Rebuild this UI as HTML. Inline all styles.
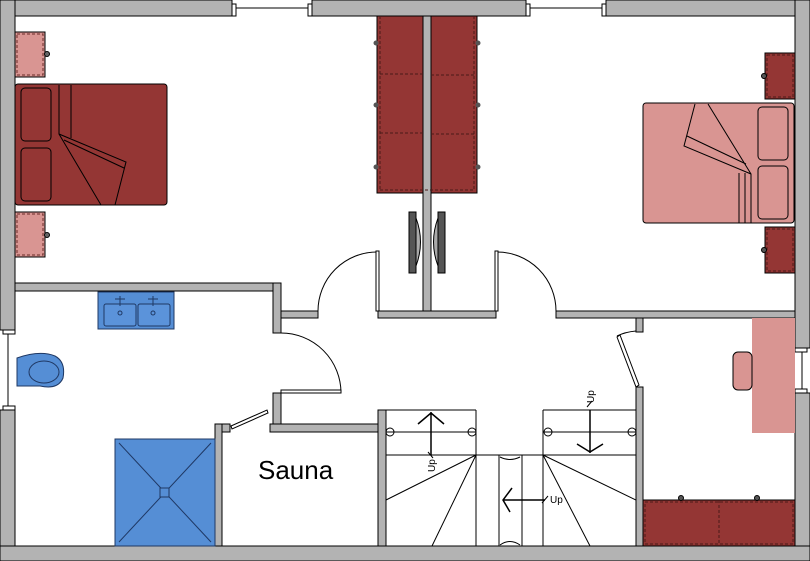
<!DOCTYPE html>
<html><head><meta charset="utf-8"><style>html,body{margin:0;padding:0;background:#fff}svg{display:block}</style></head>
<body>
<svg width="810" height="561" viewBox="0 0 810 561" xmlns="http://www.w3.org/2000/svg" font-family="Liberation Sans, sans-serif">
<rect width="810" height="561" fill="#fff"/>
<g fill="#b3b3b3" stroke="#000" stroke-width="1">
<rect x="0" y="0" width="232" height="16"/>
<rect x="312" y="0" width="214" height="16"/>
<rect x="606" y="0" width="204" height="16"/>
<rect x="0" y="0" width="15" height="330"/>
<rect x="0" y="410" width="15" height="151"/>
<rect x="795" y="0" width="15" height="348"/>
<rect x="795" y="393" width="15" height="168"/>
<rect x="0" y="546" width="810" height="15"/>
<rect x="15" y="283" width="266" height="8"/>
<rect x="273" y="283" width="8" height="50"/>
<rect x="281" y="311" width="37" height="7"/>
<rect x="378" y="311" width="118" height="7"/>
<rect x="423" y="16" width="8" height="295"/>
<rect x="556" y="311" width="239" height="7"/>
<rect x="273" y="393" width="8" height="32"/>
<rect x="270" y="424" width="116" height="8"/>
<rect x="215" y="424" width="15" height="8"/>
<rect x="215" y="424" width="7" height="122"/>
<rect x="378" y="410" width="8" height="136"/>
<rect x="636" y="318" width="7" height="14"/>
<rect x="636" y="387" width="7" height="159"/>
</g>
<g stroke="#000" fill="#fff" stroke-width="1">
<line x1="232" y1="8" x2="312" y2="8"/><rect x="232" y="4" width="4" height="12"/><rect x="308" y="4" width="4" height="12"/>
<line x1="526" y1="8" x2="606" y2="8"/><rect x="526" y="4" width="4" height="12"/><rect x="602" y="4" width="4" height="12"/>
<line x1="8" y1="330" x2="8" y2="410"/><rect x="3" y="330" width="12" height="4"/><rect x="3" y="406" width="12" height="4"/>
<line x1="802" y1="348" x2="802" y2="393"/><rect x="795" y="348" width="12" height="4"/><rect x="795" y="389" width="12" height="4"/>
</g>
<g stroke="#000" fill="none" stroke-width="1">
<path d="M281 333 A60 60 0 0 1 341 393"/><rect x="281" y="390" width="60" height="3" fill="#fff"/>
<path d="M318 311 A59 59 0 0 1 377 252"/><rect x="376" y="251" width="3" height="60" fill="#fff"/>
<path d="M556 311 A59 59 0 0 0 497 252"/><rect x="495" y="251" width="3" height="60" fill="#fff"/>
<polygon points="231,426 267,410 268,413 232,429" fill="#fff"/>
<polygon points="617,337 620,335 639,385 636,387" fill="#fff"/>
<path d="M617 336 Q625 332 636 331"/>
</g>
<g stroke="#000" stroke-width="1">
<rect x="15" y="32" width="30" height="45" fill="#d99592"/>
<rect x="15" y="212" width="30" height="45" fill="#d99592"/>
<g fill="none" stroke="#6b2a28" stroke-dasharray="3,2"><rect x="17" y="34" width="26" height="41"/><rect x="17" y="214" width="26" height="41"/><rect x="767" y="55" width="26" height="42"/><rect x="767" y="229" width="26" height="42"/></g>
<circle cx="47" cy="54" r="2.5" fill="#666"/><circle cx="47" cy="235" r="2.5" fill="#666"/>
<rect x="15" y="84" width="152" height="121" rx="3" fill="#943634"/>
<rect x="21" y="88" width="30" height="53" rx="4" fill="#943634"/>
<rect x="21" y="148" width="30" height="53" rx="4" fill="#943634"/>
<path d="M59 85 V134 L126 162 L115 205 M59 134 L101 205 M71 85 V138 M64 140 L124 168" fill="none"/>
</g>
<g stroke="#000" stroke-width="1">
<rect x="377" y="16" width="46" height="177" fill="#943634"/>
<rect x="431" y="16" width="46" height="177" fill="#943634"/>
<g stroke="#4a1a18" stroke-dasharray="3,2" fill="none">
<line x1="380" y1="74" x2="423" y2="74"/><line x1="380" y1="133" x2="423" y2="133"/>
<line x1="431" y1="75" x2="474" y2="75"/><line x1="431" y1="134" x2="474" y2="134"/>
<line x1="380" y1="16" x2="380" y2="190"/><line x1="474" y1="16" x2="474" y2="190"/>
<line x1="380" y1="190" x2="474" y2="190"/>
</g>
<g fill="#555" stroke="none"><circle cx="376" cy="43" r="2.5"/><circle cx="376" cy="105" r="2.5"/><circle cx="376" cy="167" r="2.5"/><circle cx="478" cy="43" r="2.5"/><circle cx="478" cy="105" r="2.5"/><circle cx="478" cy="167" r="2.5"/></g>
<rect x="409" y="212" width="7" height="61" fill="#555"/>
<path d="M416 218 Q425 242 416 266 Z" fill="#aaa"/>
<rect x="438" y="212" width="7" height="61" fill="#555"/>
<path d="M438 218 Q429 242 438 266 Z" fill="#aaa"/>
</g>
<g stroke="#000" stroke-width="1">
<rect x="765" y="53" width="30" height="46" fill="#943634"/>
<rect x="765" y="227" width="30" height="46" fill="#943634"/>
<g fill="none" stroke="#4a1a18" stroke-dasharray="3,2"><rect x="767" y="55" width="26" height="42"/><rect x="767" y="229" width="26" height="42"/></g>
<circle cx="764" cy="76" r="2.5" fill="#555"/><circle cx="764" cy="250" r="2.5" fill="#555"/>
<rect x="643" y="103" width="151" height="120" rx="3" fill="#d99592"/>
<rect x="758" y="107" width="30" height="53" rx="4" fill="#d99592"/>
<rect x="758" y="166" width="30" height="53" rx="4" fill="#d99592"/>
<path d="M695 104 L684 146 L751 174 V223 M708 104 L751 174 M687 136 L746 164 M739 173 V223 M745 173 V223" fill="none"/>
<rect x="752" y="318" width="43" height="115" fill="#d99592" stroke="none"/>
<rect x="733" y="352" width="19" height="38" rx="5" fill="#d99592"/>
<rect x="643" y="500" width="152" height="46" fill="#943634"/>
<rect x="645" y="502" width="148" height="42" fill="none" stroke="#4a1a18" stroke-dasharray="3,2"/>
<line x1="719" y1="500" x2="719" y2="546" stroke="#4a1a18" stroke-dasharray="3,2"/>
<circle cx="681" cy="498" r="2.5" fill="#555"/><circle cx="757" cy="498" r="2.5" fill="#555"/>
</g>
<g stroke="#1f3864" stroke-width="1">
<rect x="98" y="292" width="76" height="37" fill="#558ed5"/>
<rect x="104" y="304" width="32" height="22" rx="2" fill="#5b93da"/>
<rect x="138" y="304" width="32" height="22" rx="2" fill="#5b93da"/>
<circle cx="120" cy="313" r="2" fill="none"/><circle cx="153" cy="313" r="2" fill="none"/>
<path d="M120 296 V306 M115 299 H125 M153 296 V306 M148 299 H158" fill="none"/>
<path d="M17 358 Q40 350 55 356 Q66 362 63 378 Q58 390 40 386 L17 386 Z" fill="#558ed5"/>
<ellipse cx="44" cy="372" rx="15" ry="11" fill="#558ed5"/>
<rect x="115" y="439" width="100" height="107" fill="#558ed5"/>
<path d="M119 443 L211 542 M211 443 L119 542" fill="none"/>
<rect x="160" y="488" width="9" height="9" fill="#558ed5"/>
</g>
<text x="258" y="479" font-size="26" fill="#000">Sauna</text>
<g stroke="#000" stroke-width="1" fill="none">
<line x1="386" y1="410" x2="476" y2="410"/><line x1="543" y1="410" x2="636" y2="410"/>
<line x1="476" y1="410" x2="476" y2="546"/><line x1="543" y1="410" x2="543" y2="546"/>
<line x1="386" y1="432" x2="476" y2="432"/><line x1="543" y1="432" x2="636" y2="432"/>
<line x1="386" y1="455" x2="636" y2="455"/>
<line x1="499" y1="455" x2="499" y2="546"/><line x1="522" y1="455" x2="522" y2="546"/>
<path d="M476 455 L386 500 M476 455 L432 546 M543 455 L636 500 M543 455 L590 546"/>
<path d="M431 412 V455 M418 424 L431 413 L444 424" stroke-width="1.5"/>
<path d="M590 410 V453 M577 444 L590 452 L603 444" stroke-width="1.5"/>
<path d="M503 500 H545 M512 488 L503 500 L510 512" stroke-width="1.5"/>
<path d="M428 452 L433 458 M587 407 L592 401 M542 503 L548 496"/>
<circle cx="390" cy="432" r="4"/><circle cx="472" cy="432" r="4"/><circle cx="548" cy="432" r="4"/><circle cx="632" cy="432" r="4"/>
<path d="M500 457 Q510 462 520 457 M500 545 Q510 538 520 545"/>
</g>
<g font-size="10" fill="#000">
<text transform="translate(435,472) rotate(-90)">Up</text>
<text transform="translate(594,403) rotate(-90)">Up</text>
<text x="550" y="503">Up</text>
</g>
</svg>
</body></html>
